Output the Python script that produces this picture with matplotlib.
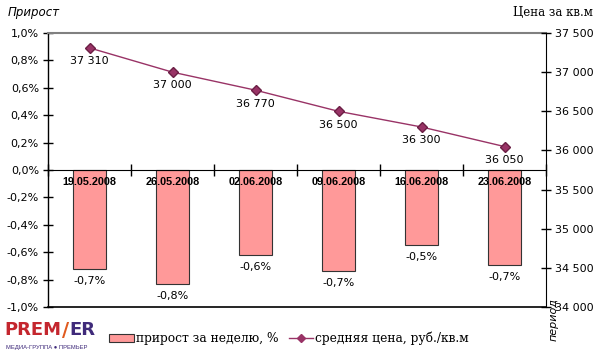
import matplotlib
matplotlib.use("Agg")
import matplotlib.pyplot as plt
from matplotlib.lines import Line2D
from matplotlib.patches import Patch

dates = ["19.05.2008", "26.05.2008", "02.06.2008", "09.06.2008", "16.06.2008", "23.06.2008"]
growth = [-0.72, -0.83, -0.62, -0.74, -0.55, -0.69]
growth_labels = ["-0,7%", "-0,8%", "-0,6%", "-0,7%", "-0,5%", "-0,7%"]
price = [37310, 37000, 36770, 36500, 36300, 36050]
price_labels = ["37 310", "37 000", "36 770", "36 500", "36 300", "36 050"]

left_ticks = [-1.0, -0.8, -0.6, -0.4, -0.2, 0.0, 0.2, 0.4, 0.6, 0.8, 1.0]
right_ticks = [34000, 34500, 35000, 35500, 36000, 36500, 37000, 37500]

bar_color = "#FF9999"
line_color = "#993366"
sans = "DejaVu Sans"
serif = "DejaVu Serif"

fig = plt.figure(figsize=(6, 3.55), dpi=100)
ax = fig.add_axes([0.08, 0.135, 0.83, 0.772])
x = list(range(len(dates)))

ax.bar(x, growth, width=0.4, color=bar_color, edgecolor="#333333", linewidth=0.8, zorder=2)
for i, v in enumerate(growth):
    ax.annotate(growth_labels[i], (i, v), xytext=(0, -5), textcoords="offset points",
                ha="center", va="top", fontsize=8, family=sans)
    ax.text(i, -0.05, dates[i], ha="center", va="top", fontsize=7.8, family="Liberation Sans",
            fontweight="bold", zorder=3)

ax.set_xlim(-0.5, len(dates) - 0.5)
ax.set_ylim(-1.0, 1.0)
ax.set_yticks(left_ticks)
ax.set_yticklabels([f"{t:.1f}%".replace(".", ",").replace("-0,0", "0,0") for t in left_ticks],
                   family=sans, fontsize=8)
ax.tick_params(axis="y", direction="inout", length=7, width=1, pad=3)

# category axis drawn at zero
ax.spines["bottom"].set_position(("data", 0))
ax.set_xticks([i - 0.5 for i in range(len(dates) + 1)])
ax.set_xticklabels([])
ax.tick_params(axis="x", direction="inout", length=8, width=1)
ax.axhline(-1.0, color="black", lw=1.2, clip_on=False)
ax.spines["top"].set_color("#808080")
ax.spines["top"].set_linewidth(1.5)
ax.spines["right"].set_visible(False)
ax.spines["left"].set_linewidth(1)

ax2 = ax.twinx()
ax2.plot(x, price, color=line_color, lw=1, marker="D", markersize=5,
         markerfacecolor=line_color, markeredgecolor="#6B1F45", zorder=4)
for i, v in enumerate(price):
    ax2.annotate(price_labels[i], (i, v), xytext=(0, -6), textcoords="offset points",
                 ha="center", va="top", fontsize=8, family=sans)
ax2.set_ylim(34000, 37500)
ax2.set_yticks(right_ticks)
ax2.set_yticklabels([f"{t:,}".replace(",", " ") for t in right_ticks], family=sans, fontsize=8)
ax2.tick_params(axis="y", direction="inout", length=7, width=1, pad=3)
ax2.spines["top"].set_visible(False)
ax2.spines["left"].set_visible(False)
ax2.spines["bottom"].set_visible(False)

fig.text(0.012, 0.965, "Прирост", family=sans, style="italic", fontsize=8.5, va="center")
fig.text(0.988, 0.965, "Цена за кв.м", family=serif, fontsize=8.5, va="center", ha="right")
fig.text(0.922, 0.1, "период", family=sans, style="italic", fontsize=8,
         rotation=90, ha="center", va="center")

handles = [Patch(facecolor=bar_color, edgecolor="#333333", linewidth=0.8),
           Line2D([0], [0], color=line_color, lw=1, marker="D", markersize=4,
                  markerfacecolor=line_color)]
fig.legend(handles, ["прирост за неделю, %", "средняя цена, руб./кв.м"],
           loc="center", bbox_to_anchor=(0.482, 0.047), ncol=2, frameon=False,
           prop={"family": serif, "size": 8.8}, handlelength=2.0, handletextpad=0.2,
           columnspacing=0.8)

# logo
t1 = fig.text(0.008, 0.07, "PREM", family=sans, fontweight="heavy", fontsize=13,
              color="#C4262E", va="center")
t2 = ax.annotate("/", xy=(1, 0.5), xycoords=t1, family=sans, fontweight="heavy", fontsize=14,
                 color="#E05A1E", va="center", ha="left", annotation_clip=False)
ax.annotate("ER", xy=(1, 0.5), xycoords=t2, family=sans, fontweight="heavy", fontsize=13,
            color="#3F2A7A", va="center", ha="left", annotation_clip=False)
fig.text(0.01, 0.022, "МЕДИА-ГРУППА ● ПРЕМЬЕР", family="Liberation Sans", fontsize=4.2,
         color="#3F2A7A", va="center")

fig.savefig("out.png", dpi=100)
